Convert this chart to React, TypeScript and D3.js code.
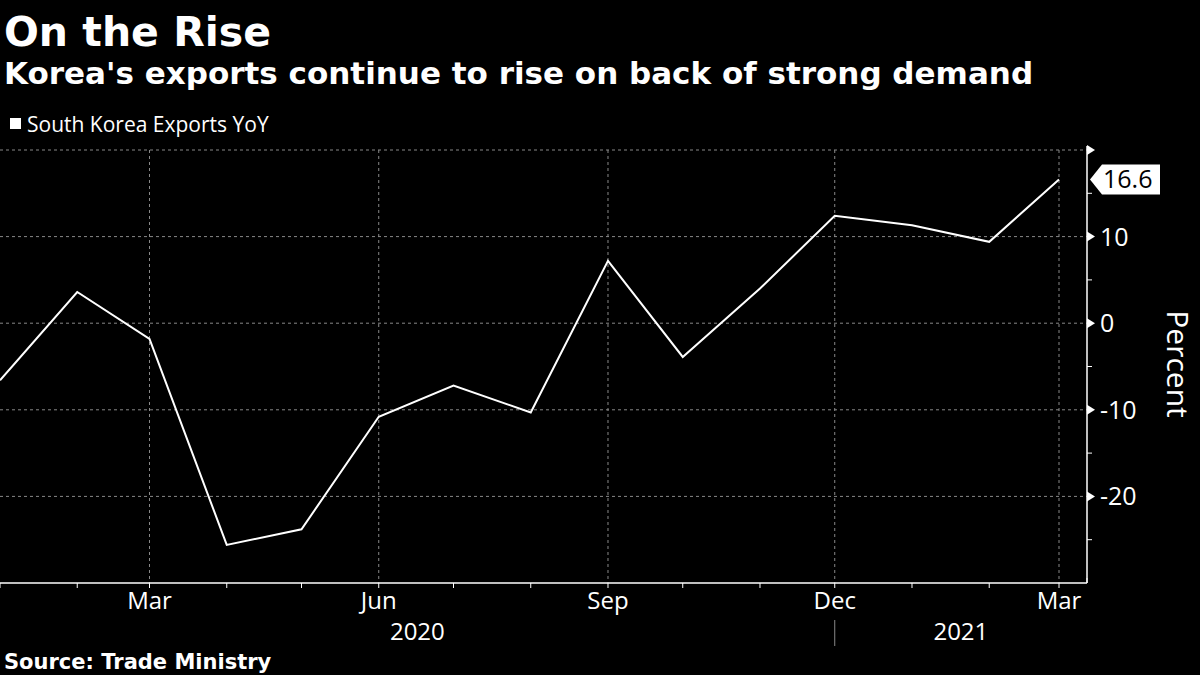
import React from "react";
import * as d3 from "d3";

const months = ["2020-01","2020-02","2020-03","2020-04","2020-05","2020-06","2020-07","2020-08","2020-09","2020-10","2020-11","2020-12","2021-01","2021-02","2021-03"];
const exportsYoY = [-6.6, 3.6, -1.8, -25.6, -23.8, -10.8, -7.2, -10.3, 7.2, -3.9, 4.0, 12.4, 11.3, 9.4, 16.6];
const yTicks = [-20, -10, 0, 10];
const yMinor = [-25, -15, -5, 5, 15];
const labelMonths = ["2020-03","2020-06","2020-09","2020-12","2021-03"];
const labelNames = ["Mar","Jun","Sep","Dec","Mar"];
const yearLabels = ["2020", "2021"];

const W = 1200, H = 675;
const parse = d3.timeParse("%Y-%m");

export default function App() {
  const dates = months.map((m) => parse(m) as Date);
  const x = d3.scaleTime().domain([dates[0], parse("2021-03") as Date]).range([0, 1059]);
  const y = d3.scaleLinear().domain([-30, 20]).range([583, 150]);
  const right = 1087;
  const line = d3.line<number>().x((_, i) => x(dates[i])).y((d) => y(d));
  const font = "'Open Sans', sans-serif";
  const bold = "'DejaVu Sans', sans-serif";
  const last = exportsYoY[exportsYoY.length - 1];
  const ly = y(last);
  const sep = x(parse("2020-12") as Date);
  const yearCenters = [(0 + sep) / 2, (sep + right) / 2];
  return (
    <svg width={W} height={H} style={{ position: "absolute", left: 0, top: 0, background: "#000" }}>
      <rect x={0} y={0} width={W} height={H} fill="#000" />
      <text x={4} y={46} fill="#fff" fontFamily={bold} fontWeight="bold" fontSize={41}>On the Rise</text>
      <text x={4} y={84} fill="#fff" fontFamily={bold} fontWeight="bold" fontSize={31}>Korea's exports continue to rise on back of strong demand</text>
      <rect x={10} y={118} width={11} height={11} fill="#fff" />
      <text x={27} y={132} fill="#fff" fontFamily={font} fontSize={21}>South Korea Exports YoY</text>

      {/* grid */}
      {[20, ...yTicks].map((t) => (
        <line key={"g" + t} x1={0} x2={right} y1={y(t)} y2={y(t)} stroke="#888" strokeDasharray="3,3" strokeWidth={1} />
      ))}
      {labelMonths.map((m) => (
        <line key={"v" + m} x1={x(parse(m) as Date)} x2={x(parse(m) as Date)} y1={150} y2={583} stroke="#888" strokeDasharray="3,3" strokeWidth={1} />
      ))}

      {/* x axis */}
      <line x1={0} x2={right} y1={583} y2={583} stroke="#fff" strokeWidth={1.5} />
      {d3.timeMonth.range(dates[0], parse("2021-04") as Date).map((d, i) => (
        <line key={"xt" + i} x1={x(d)} x2={x(d)} y1={583} y2={588} stroke="#fff" />
      ))}
      <line x1={right} x2={right} y1={578} y2={583} stroke="#fff" />
      {labelMonths.map((m, i) => (
        <text key={"xl" + m} x={x(parse(m) as Date)} y={609} fill="#fff" fontFamily={font} fontSize={24} textAnchor="middle">{labelNames[i]}</text>
      ))}
      {yearLabels.map((lab, i) => (
        <text key={lab} x={yearCenters[i]} y={640} fill="#fff" fontFamily={font} fontSize={24} textAnchor="middle">{lab}</text>
      ))}
      <line x1={sep} x2={sep} y1={620} y2={646} stroke="#888" />

      {/* y axis */}
      <line x1={right} x2={right} y1={146} y2={583} stroke="#fff" strokeWidth={1.5} />
      {[20, ...yTicks].map((t) => (
        <path key={"yt" + t} d={`M${right},${y(t) - 5}L${right + 8},${y(t)}L${right},${y(t) + 5}Z`} fill="#fff" />
      ))}
      {yMinor.map((t) => (
        <line key={"ym" + t} x1={right} x2={right + 5} y1={y(t)} y2={y(t)} stroke="#fff" />
      ))}
      {yTicks.map((t) => (
        <text key={"yl" + t} x={right + 13} y={y(t) + 9} fill="#fff" fontFamily={font} fontSize={25}>{t}</text>
      ))}
      <text transform={`translate(1167,364) rotate(90)`} fill="#fff" fontFamily={font} fontSize={30} textAnchor="middle">Percent</text>

      {/* line */}
      <path d={line(exportsYoY) || ""} fill="none" stroke="#fff" strokeWidth={2} />

      {/* last value tag */}
      <path d={`M${right + 3},${ly}L${right + 15},${ly - 15}L${1160},${ly - 15}L${1160},${ly + 15}L${right + 15},${ly + 15}Z`} fill="#fff" />
      <text x={1103} y={ly + 9} fill="#000" fontFamily={font} fontSize={25}>{last.toFixed(1)}</text>

      <text x={4} y={669} fill="#fff" fontFamily={bold} fontWeight="bold" fontSize={21}>Source: Trade Ministry</text>
    </svg>
  );
}
